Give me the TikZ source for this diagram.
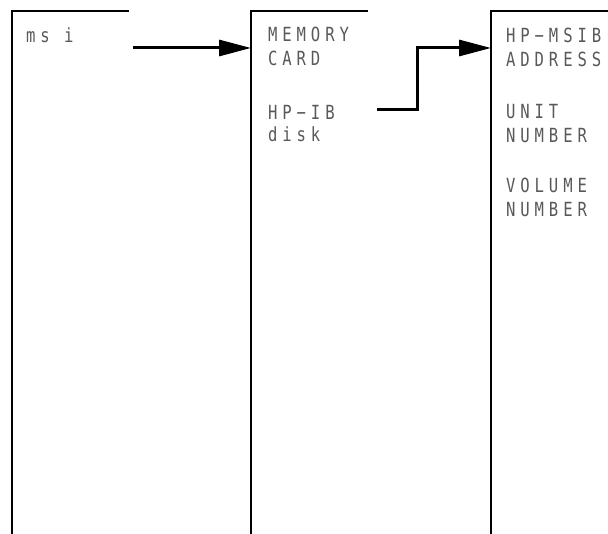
\documentclass[tikz,border=0pt]{standalone}
\usepackage{fontspec}
\newfontfamily\hpfont[FakeStretch=0.8,LetterSpace=25]{DejaVu Sans Mono}
\usetikzlibrary{arrows.meta}
\begin{document}
\begin{tikzpicture}[x=1pt,y=-1pt,
  lbl/.style={anchor=base west,inner sep=0pt,text=black!65,font=\hpfont\fontsize{19.5pt}{22pt}\selectfont},
  rule/.style={line width=2.5pt,black},
  link/.style={line width=3pt,black,-{Triangle[length=32pt,width=16pt]}}]
\useasboundingbox[fill=white] (0,0) rectangle (608,534);
% columns
\coordinate (c1t) at (12,11);
\coordinate (c1b) at (12,534);
\coordinate (c1r) at (129,11);
\coordinate (c2t) at (251,11);
\coordinate (c2b) at (251,534);
\coordinate (c2r) at (368,11);
\coordinate (c3t) at (491,11);
\coordinate (c3b) at (491,534);
\coordinate (c3r) at (608,11);
\draw[rule] (c1r) -- (c1t) -- (c1b);
\draw[rule] (c2r) -- (c2t) -- (c2b);
\draw[rule] (c3r) -- (c3t) -- (c3b);
% labels
\node[lbl] (msi) at (26,43) {ms i};
\node[lbl] (mem) at (268,42) {MEMORY};
\node[lbl] (card) at (268,66) {CARD};
\node[lbl] (hpib) at (268,120) {HP−IB};
\node[lbl] (disk) at (268,142) {disk};
\node[lbl] (hpmsib) at (506,42.5) {HP−MSIB};
\node[lbl] (addr) at (506,66.5) {ADDRESS};
\node[lbl] (unit) at (506,119) {UNIT};
\node[lbl] (unum) at (506,142.5) {NUMBER};
\node[lbl] (vol) at (506,192.5) {VOLUME};
\node[lbl] (vnum) at (506,216.5) {NUMBER};
% connectors
\coordinate (a1) at (133,48);
\coordinate (a2) at (377,110);
\coordinate (a2k) at (417,110);
\draw[link] (a1) -- (a1 -| c2t);
\draw[link] (a2) -- (a2k) |- (c3t |- a1);
\end{tikzpicture}
\end{document}
